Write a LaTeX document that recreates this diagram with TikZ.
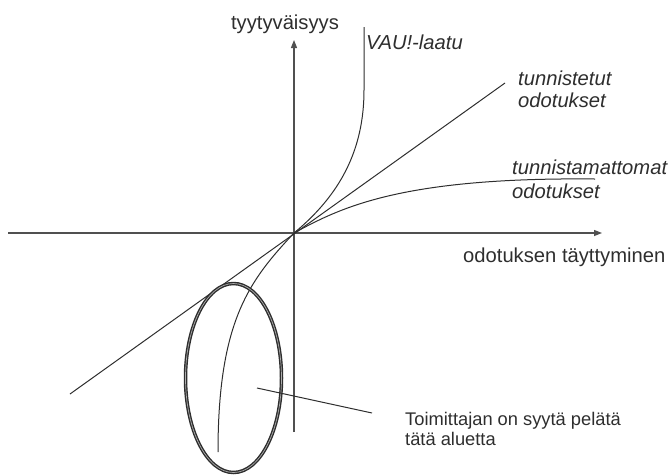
\documentclass[tikz,border=0pt]{standalone}
\usepackage{fontspec}
\setmainfont{Liberation Sans}
\usetikzlibrary{arrows.meta,shapes.geometric}
\definecolor{ink}{HTML}{2E2E2E}
\definecolor{axis}{HTML}{505050}
\tikzset{
  axisline/.style={draw=axis, line width=1.3pt, -{Triangle[length=8pt,width=6pt]}},
  curveline/.style={draw=ink, line width=1pt},
  lbl/.style={inner sep=0pt, text=ink, font=\fontsize{20.2}{22}\selectfont, align=left},
  lblsmall/.style={inner sep=0pt, text=ink, font=\fontsize{18.3}{20}\selectfont, align=left},
  ring/.style={draw=ink, line width=1.4pt, double=gray!65, double distance=0.7pt}
}
\begin{document}
\begin{tikzpicture}[x=1pt,y=-1pt]
\useasboundingbox (0,0) rectangle (669,475);
% coordinates
\coordinate (O) at (294,233);
\coordinate (xL) at (8,233);
\coordinate (xR) at (602,233);
\coordinate (yB) at (294,432);
\coordinate (yT) at (294,40);
\coordinate (lineL) at (70,394);
\coordinate (lineR) at (505,83);
\coordinate (vauTop) at (364,27);
\coordinate (vauMid) at (364,90);
\coordinate (satEnd) at (595,179);
\coordinate (lowEnd) at (218,452);
\coordinate (ptrA) at (257,388);
\coordinate (ptrB) at (372,413);
% axes
\draw[axisline] (xL) -- (xR);
\draw[axisline] (yB) -- (yT);
% straight line
\draw[curveline] (lineL) -- (lineR);
% VAU curve
\draw[curveline] (O) .. controls (340,195) and (364,150) .. (vauMid) -- (vauTop);
% saturating curve
\draw[curveline] (O) .. controls (340,208) and (400,177) .. (satEnd);
% lower curve
\draw[curveline] (O) .. controls (250,280) and (218,320) .. (lowEnd);
% ellipse
\node[ring, ellipse, minimum width=96pt, minimum height=189pt, inner sep=0pt] (ring) at (233.5,378) {};
% pointer
\draw[curveline] (ptrA) -- (ptrB);
% labels
\node[lbl, anchor=base] (ylab) at (285,29) {tyytyväisyys};
\node[lbl, anchor=base west] (xlab) at (463,262) {odotuksen täyttyminen};
\node[lbl, anchor=base west, font=\fontsize{20.2}{22}\selectfont\itshape] (vau) at (366,49) {VAU!-laatu};
\node[lbl, anchor=base west, font=\fontsize{20.2}{22}\selectfont\itshape] (tun) at (518,107) {tunnistetut\\odotukset};
\node[lbl, anchor=base west, font=\fontsize{20.2}{24}\selectfont\itshape] (tunm) at (512,198) {tunnistamattomat\\odotukset};
\node[lblsmall, anchor=base west] (note) at (405,445) {Toimittajan on syytä pelätä\\tätä aluetta};
\end{tikzpicture}
\end{document}
